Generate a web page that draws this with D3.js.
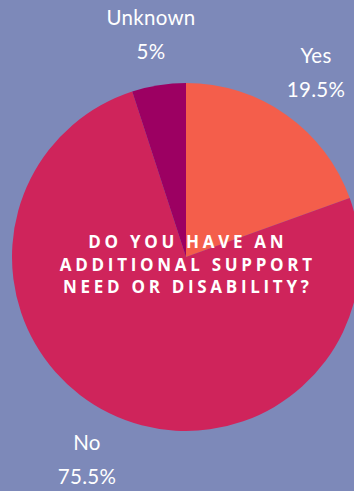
<!DOCTYPE html>
<html>
<head>
<meta charset="utf-8">
<script src="https://cdn.jsdelivr.net/npm/d3@7"></script>
<style>
  html, body { margin: 0; padding: 0; background: #7d89b9; }
  #pie-container { width: 354px; height: 491px; overflow: hidden; }
</style>
</head>
<body>
<div id="pie-container"></div>
<script>
// answers, in clockwise order from 12 o'clock
const categories = ["Yes", "No", "Unknown"];
const percents = [19.5, 75.5, 5];
const colors = ["#f45e4b", "#cf245b", "#9c0062"];
const titleLines = ["DO YOU HAVE AN", "ADDITIONAL SUPPORT", "NEED OR DISABILITY?"];

const width = 354, height = 491;
const cx = 186, cy = 257, radius = 174;

const svg = d3
  .select("#pie-container")
  .append("svg")
  .attr("width", width)
  .attr("height", height);

const data = categories.map((c, i) => ({ label: c, value: percents[i], color: colors[i] }));

const pieGenerator = d3.pie().sort(null).value((d) => d.value);
const arcGenerator = d3.arc().innerRadius(0).outerRadius(radius);

const g = svg.append("g").attr("transform", "translate(" + cx + "," + cy + ")");

g.selectAll("path")
  .data(pieGenerator(data))
  .enter()
  .append("path")
  .attr("d", arcGenerator)
  .style("fill", (d) => d.data.color);

// labels sit outside the pie
const labelPos = {
  Yes: [316, 63],
  No: [87, 450],
  Unknown: [151, 25]
};

const labels = svg.selectAll(".lbl").data(data).enter().append("text")
  .attr("class", "lbl")
  .attr("text-anchor", "middle")
  .style("font-family", "Lato, 'Noto Sans', sans-serif")
  .style("font-size", "20.5px")
  .style("letter-spacing", "0.3px")
  .style("fill", "#ffffff");

labels.append("tspan")
  .attr("x", (d) => labelPos[d.label][0])
  .attr("y", (d) => labelPos[d.label][1])
  .text((d) => d.label);

labels.append("tspan")
  .attr("x", (d) => labelPos[d.label][0])
  .attr("y", (d) => labelPos[d.label][1] + 34)
  .text((d) => d.value + "%");

// question in the middle
svg.append("text")
  .attr("text-anchor", "middle")
  .style("font-family", "'Open Sans', sans-serif")
  .style("font-weight", "bold")
  .style("font-size", "17px")
  .style("letter-spacing", "3.7px")
  .style("fill", "#ffffff")
  .selectAll("tspan")
  .data(titleLines)
  .enter()
  .append("tspan")
  .attr("x", cx + 1.8)
  .attr("y", (_, i) => 248 + i * 22.5)
  .text((d) => d);
</script>
</body>
</html>
